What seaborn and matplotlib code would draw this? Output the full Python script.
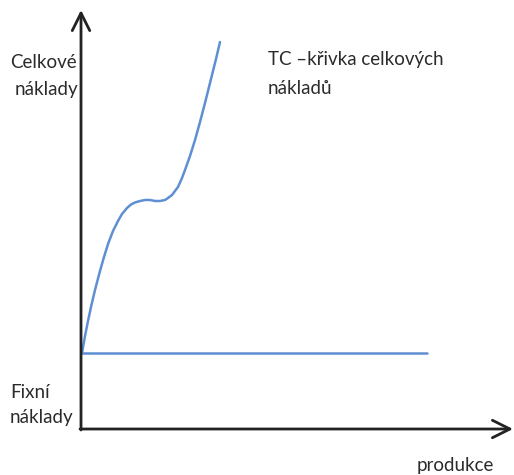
import matplotlib
matplotlib.use("Agg")
import matplotlib.pyplot as plt
import seaborn as sns
import numpy as np
import pandas as pd

# total cost curve (TC)
produkce = [1, 4, 7, 10, 14, 19, 23, 27, 32, 37, 41, 46, 50, 54, 59, 64, 69,
            74, 79, 84, 87, 91, 94, 97, 101, 104, 109, 114, 119, 124, 128, 131, 135, 139]
celkove_naklady = [76, 93, 108, 122, 139, 158, 172, 185, 198, 208, 215, 221, 224.5, 226.5, 228, 229, 229,
                   228, 228, 229, 231, 234, 238, 242, 251, 259, 273, 289, 307, 326, 342, 354, 370, 387]

# fixed costs (flat line)
fixni_x = [0, 346]
fixni_y = [76, 76]

tc = pd.DataFrame({"x": produkce, "y": celkove_naklady})
fc = pd.DataFrame({"x": fixni_x, "y": fixni_y})

sns.set_style("white")
plt.rcParams['font.family'] = ['Lato', 'DejaVu Sans']

fig = plt.figure(figsize=(5.14, 4.75), dpi=100)
ax = fig.add_axes([0, 0, 1, 1])
ax.set_xlim(-81, 433)
ax.set_ylim(-46, 429)
ax.axis("off")

blue = "#5f8fd3"
sns.lineplot(data=tc, x="x", y="y", ax=ax, color=blue, lw=1.8, sort=False,
             solid_joinstyle="round", solid_capstyle="round")
sns.lineplot(data=fc, x="x", y="y", ax=ax, color=blue, lw=1.8)

arrow = dict(arrowstyle="->,head_length=0.9,head_width=0.45", lw=2, color="#222222",
             mutation_scale=14, shrinkA=0, shrinkB=0)
ax.annotate("", xy=(432, 0), xytext=(-1, 0), arrowprops=arrow)
ax.annotate("", xy=(0, 419), xytext=(0, -1), arrowprops=arrow)

txt = dict(fontsize=13.5, color="#2b2b2b", va="center", ha="left")
ax.text(-71, 366, "Celkové", **txt)
ax.text(-66, 339, "náklady", **txt)
ax.text(187, 369, "TC –křivka celkových", **txt)
ax.text(187, 341, "nákladů", **txt)
ax.text(-71, 37, "Fixní", **txt)
ax.text(-71, 11, "náklady", **txt)
ax.text(336, -36, "produkce", **txt)

fig.savefig("out.png", dpi=100)
